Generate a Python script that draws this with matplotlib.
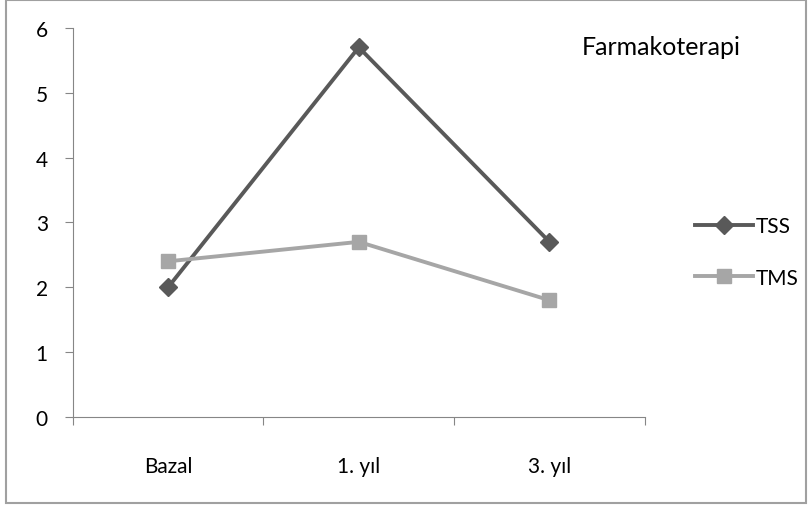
import matplotlib.pyplot as plt
from matplotlib.patches import Rectangle

plt.rcParams['font.family'] = ['Lato', 'DejaVu Sans']

periods = ['Bazal', '1. yıl', '3. yıl']
tss = [2.0, 5.7, 2.7]
tms = [2.4, 2.7, 1.8]

fig = plt.figure(figsize=(8.09, 5.06), dpi=100)
ax = fig.add_axes([0.090, 0.174, 0.707, 0.769])

x = range(len(periods))
ax.plot(x, tss, color='#595959', lw=2.8, marker='D', ms=9, label='TSS')
ax.plot(x, tms, color='#a6a6a6', lw=2.8, marker='s', ms=10.5, label='TMS')

ax.set_xlim(-0.5, 2.5)
ax.set_ylim(0, 6)
ax.set_yticks(range(0, 7))

# tick marks between categories, labels centred under each one
ax.set_xticks([-0.5, 0.5, 1.5, 2.5])
ax.set_xticklabels([])
ax.set_xticks(list(x), minor=True)
ax.set_xticklabels(periods, minor=True)
ax.tick_params(axis='x', which='minor', length=0, pad=28, labelsize=15)
ax.tick_params(axis='x', which='major', length=6, color='#868686')
ax.tick_params(axis='y', length=6, color='#868686', labelsize=15, pad=12)

for side in ['top', 'right']:
    ax.spines[side].set_visible(False)
for side in ['left', 'bottom']:
    ax.spines[side].set_color('#868686')

fig.text(0.817, 0.907, 'Farmakoterapi', ha='center', va='center', fontsize=18)

ax.legend(loc='center left', bbox_to_anchor=(0.836, 0.5),
          bbox_transform=fig.transFigure, frameon=False, fontsize=15,
          handlelength=2.8, handletextpad=0.1, labelspacing=1.5)

fig.patches.append(Rectangle((0.008, 0.004), 0.988, 0.994, transform=fig.transFigure,
                             fill=False, edgecolor='#a0a0a0', lw=1.5))

fig.savefig('out.png', dpi=100)
